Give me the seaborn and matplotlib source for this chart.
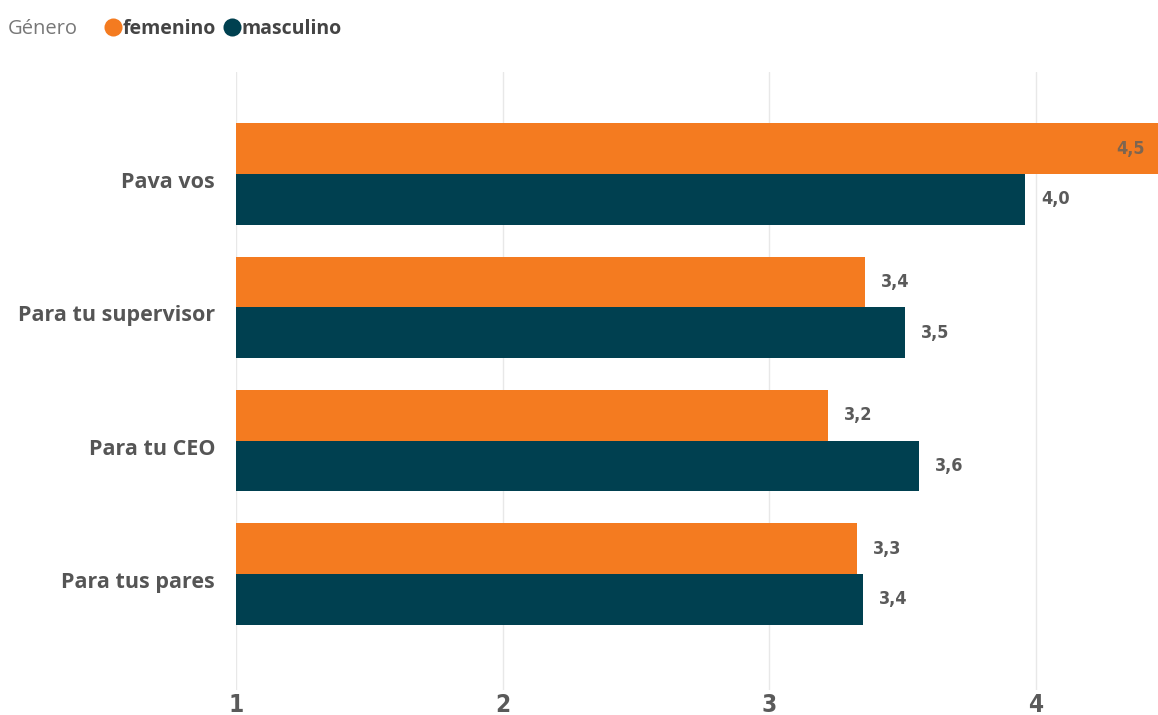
import matplotlib
matplotlib.use("Agg")
import matplotlib.pyplot as plt
from matplotlib.lines import Line2D
from matplotlib import font_manager
import matplotlib.transforms as mtransforms
import seaborn as sns
import pandas as pd

# ---- data ----
categorias = ["Pava vos", "Para tu supervisor", "Para tu CEO", "Para tus pares"]
femenino = [4.50, 3.36, 3.22, 3.33]
masculino = [3.96, 3.51, 3.56, 3.35]
generos = ["femenino", "masculino"]
x_ticks = [1, 2, 3, 4]

colores = {"femenino": "#F47B20", "masculino": "#004050"}

df = pd.DataFrame({
    "categoria": categorias * 2,
    "valor": femenino + masculino,
    "genero": [generos[0]] * len(categorias) + [generos[1]] * len(categorias),
})

sns.set_theme(style="white")
plt.rcParams["font.family"] = ["Open Sans", "DejaVu Sans"]

names = {f.name for f in font_manager.fontManager.ttflist}
if "Liberation Sans Narrow" in names:
    NARROW = dict(fontfamily="Liberation Sans Narrow", fontweight="bold")
else:
    NARROW = dict(fontfamily="DejaVu Sans", fontstretch="condensed", fontweight="bold")

W, H = 1158, 715
fig = plt.figure(figsize=(W / 100, H / 100), dpi=100)
ax = fig.add_axes([236 / W, 1 - 690 / H, (W - 236) / W, (690 - 72) / H])

sns.barplot(data=df, y="categoria", x="valor", hue="genero", order=categorias,
            hue_order=generos, palette=colores, orient="h", width=0.76,
            saturation=1, ax=ax, legend=False, linewidth=0)

xmax = 1 + (W - 236) / 266.67
ax.set_xlim(1, xmax)
ax.set_ylim(3.87, -0.765)

ax.set_xticks(x_ticks)
ax.set_xticklabels([str(t) for t in x_ticks], fontsize=17.5, color="#5a5a5a", **NARROW)
ax.tick_params(axis="x", length=0, pad=2)
ax.tick_params(axis="y", length=0, pad=15)
offset = mtransforms.ScaledTranslation(0, -6 / 100, fig.dpi_scale_trans)
for lbl in ax.get_yticklabels():
    lbl.set_fontweight("bold")
    lbl.set_fontsize(15.5)
    lbl.set_color("#555555")
    lbl.set_transform(lbl.get_transform() + offset)
ax.set_xlabel("")
ax.set_ylabel("")
ax.grid(axis="x", color="#e8e8e8", linewidth=1)
ax.set_axisbelow(True)
for s in ax.spines.values():
    s.set_visible(False)

# value labels
for container, gen in zip(ax.containers, generos):
    for bar in container:
        v = bar.get_width()
        yc = bar.get_y() + bar.get_height() / 2
        txt = f"{v:.1f}".replace(".", ",")
        if v > xmax - 0.2:
            ax.text(xmax - 13 / 266.67, yc, txt, ha="right", va="center",
                    fontsize=13, color="#7d6550", clip_on=False, **NARROW)
        else:
            ax.text(v + 16 / 266.67, yc, txt, ha="left", va="center",
                    fontsize=13, color="#5a5a5a", **NARROW)

# legend
fig.text(8 / W, 1 - 29 / H, "Género", ha="left", va="center", fontsize=14.5,
         color="#777777")
handles = [Line2D([0], [0], marker="o", linestyle="", markersize=13,
                  markerfacecolor=colores[g], markeredgewidth=0) for g in generos]
leg = fig.legend(handles, generos, loc="center left",
                 bbox_to_anchor=(90 / W, 1 - 29 / H), ncol=2, frameon=False,
                 handlelength=0.6, handletextpad=0.2, columnspacing=0.5,
                 prop={"weight": "bold", "size": 14})
for t in leg.get_texts():
    t.set_color("#444444")

fig.savefig("out.png", dpi=100)
